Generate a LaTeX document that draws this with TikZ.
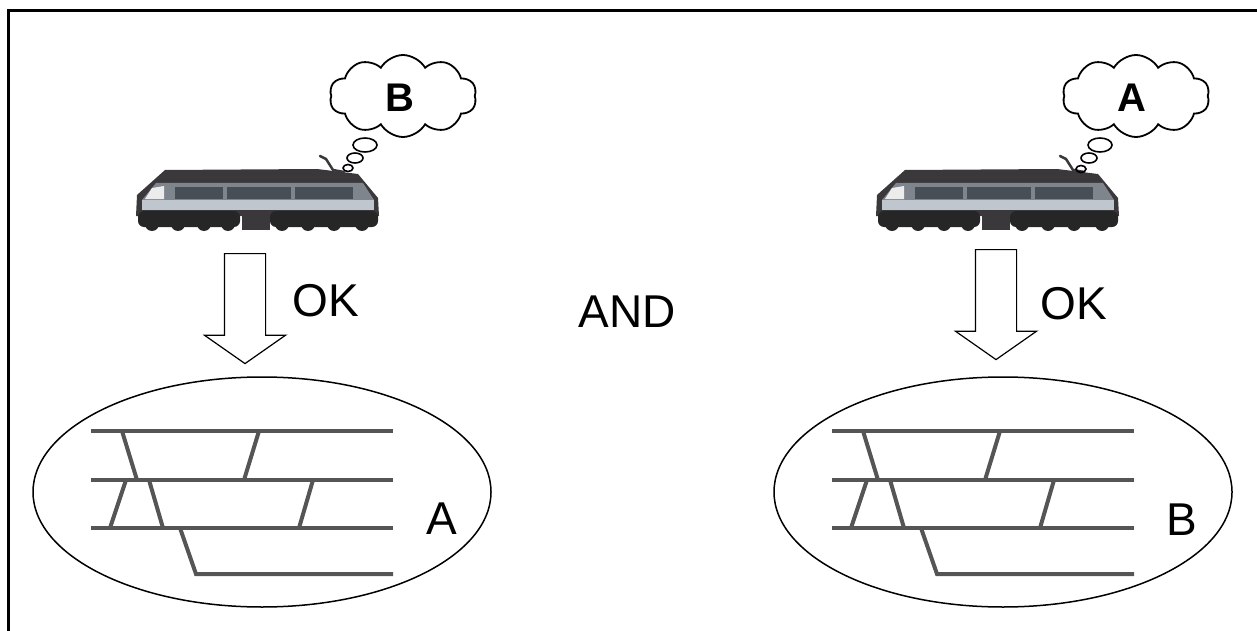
\documentclass[tikz,border=0pt]{standalone}
\usepackage{fontspec}
\setmainfont{Liberation Sans}
\usepackage{tikz}
\usetikzlibrary{shapes.geometric, shapes.symbols, shapes.arrows}

\definecolor{trackgray}{HTML}{555555}
\definecolor{locodark}{HTML}{3A383A}
\definecolor{locomid}{HTML}{7E858C}
\definecolor{locowin}{HTML}{474E55}
\definecolor{localight}{HTML}{BFC6CE}

\newcommand{\bigtext}{\fontsize{46}{50}\selectfont}
\newcommand{\cloudtext}{\fontsize{40}{44}\selectfont\bfseries}

\tikzstyle{yard} = [ellipse, minimum width=458, minimum height=230, inner sep=0, draw=black, line width=1.5]
\tikzstyle{okarrow} = [single arrow, draw=black, line width=1.2, fill=white, minimum width=80, minimum height=110, single arrow head extend=20, single arrow tip angle=110, inner sep=0, rotate=-90, anchor=tail]
\tikzstyle{thought} = [cloud, cloud puffs=10, cloud puff arc=120, draw=black, line width=1.8, minimum width=147, minimum height=82, inner sep=0, font=\cloudtext]
\tikzstyle{bubble} = [ellipse, draw=black, line width=1.6, inner sep=0]
\tikzstyle{label} = [inner sep=0, font=\bigtext]
\tikzstyle{rail} = [line width=4, trackgray]

\tikzset{
  locomotive/.pic={
    % body
    \fill[locodark] (35,30) -- (187,29) -- (228,34) -- (248,58) -- (249,76) -- (6,76) -- (7,55) -- cycle;
    \draw[locodark, line width=2.5, line cap=round] (190,16) -- (196,19) -- (203,30) -- (214,32);
    \fill[locomid] (26,43) -- (233,43) -- (244,60) -- (12,60) -- cycle;
    \fill[locowin] (45,47) rectangle (93,59);
    \fill[locowin] (97,47) rectangle (161,59);
    \fill[locowin] (165,47) rectangle (223,59);
    \fill[white!85!gray] (22,48) -- (34,46) -- (34,59) -- (15,59) -- cycle;
    \fill[localight] (12,60) rectangle (244,70);
    \fill[locodark] (8,70) rectangle (247,74);
    % bogies
    \fill[black!85, rounded corners=6] (8,71) rectangle (110,87);
    \fill[black!85, rounded corners=6] (140,71) rectangle (248,87);
    \fill[locodark] (112,76) rectangle (140,90);
    \foreach \wx in {22,48,74,98,152,178,204,232}
      \fill[black!85] (\wx,84) circle (7);
  },
  junction/.pic={
    \draw[rail] (-171,-61) -- (131,-61);
    \draw[rail] (-171,-12) -- (131,-12);
    \draw[rail] (-171,36) -- (131,36);
    \draw[rail] (-82,36) -- (-66,82) -- (131,82);
    \draw[rail] (-140,-61) -- (-125,-12);
    \draw[rail] (-3,-61) -- (-18,-12);
    \draw[rail] (-136,-12) -- (-152,36);
    \draw[rail] (-113,-12) -- (-99,36);
    \draw[rail] (51,-12) -- (37,36);
  }
}

\begin{document}
\begin{tikzpicture}[x=1pt, y=-1pt]
\useasboundingbox (0,0) rectangle (1257,631);

% Frame
\draw[line width=3] (8,631) -- (8,11) -- (1257,11);

% Left side
\pic at (130,140) {locomotive};
\node (cloudLeft) [thought] at (403,96) {};
\node (wishLeft) [inner sep=0, font=\cloudtext] at (400,98) {B};
\node (bubbleLeftA) [bubble, minimum width=24, minimum height=14] at (365,145) {};
\node (bubbleLeftB) [bubble, minimum width=16, minimum height=10] at (355,158) {};
\node (bubbleLeftC) [bubble, minimum width=10, minimum height=7] at (348,168) {};
\node (arrowLeft) [okarrow] at (245,253) {\rule{0pt}{40pt}};
\node (okLeft) [label] at (326,301) {OK};
\node (yardLeft) [yard] at (262,492) {};
\pic at (yardLeft.center) {junction};
\node (nameLeft) [label] at (442,519) {A};

% Middle
\node (andText) [label] at (627,312) {AND};

% Right side
\pic at (870,140) {locomotive};
\node (cloudRight) [thought] at (1136,96) {};
\node (wishRight) [inner sep=0, font=\cloudtext] at (1132,98) {A};
\node (bubbleRightA) [bubble, minimum width=24, minimum height=14] at (1100,145) {};
\node (bubbleRightB) [bubble, minimum width=16, minimum height=10] at (1089,158) {};
\node (bubbleRightC) [bubble, minimum width=10, minimum height=7] at (1081,169) {};
\node (arrowRight) [okarrow] at (996,249) {\rule{0pt}{40pt}};
\node (okRight) [label] at (1074,304) {OK};
\node (yardRight) [yard] at (1003,492) {};
\pic at (yardRight.center) {junction};
\node (nameRight) [label] at (1182,520) {B};

\end{tikzpicture}
\end{document}
